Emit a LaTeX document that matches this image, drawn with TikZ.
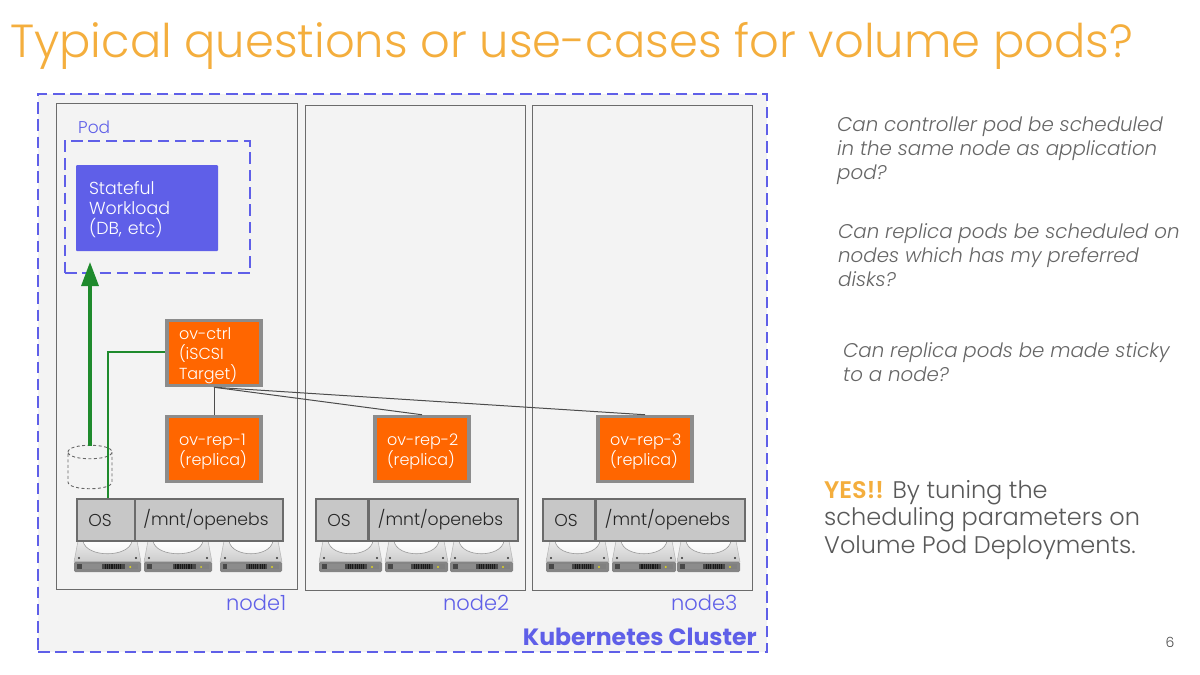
\documentclass[tikz,border=0pt]{standalone}
\usepackage{fontspec}
\setmainfont{Poppins}
\newfontfamily\lightf{Poppins Light}[ItalicFont={Poppins Light Italic},BoldFont={Poppins SemiBold}]
\usetikzlibrary{arrows.meta,shapes.geometric}
\definecolor{clusterbg}{HTML}{F3F3F3}
\definecolor{purp}{HTML}{5F5FE8}
\definecolor{orng}{HTML}{FF6600}
\definecolor{ttl}{HTML}{F4AE3D}
\definecolor{grn}{HTML}{1E8A2C}
\definecolor{bord}{HTML}{6B6B6B}
\definecolor{txtgrey}{HTML}{666666}
\tikzset{
 px/.style={x=1pt,y=-1pt},
 nodebox/.style={draw=bord,line width=1pt,fill=clusterbg,anchor=center,inner sep=0pt},
 clusterbox/.style={draw=purp,line width=2.4pt,dash pattern=on 11.5pt off 5.8pt,fill=clusterbg},
 podbox/.style={draw=purp,line width=2.4pt,dash pattern=on 11.5pt off 5.8pt},
 orangebox/.style={draw=black!45,line width=3.5pt,fill=orng,text=white,font=\lightf\fontsize{16}{20}\selectfont,align=left,inner xsep=12pt,inner ysep=0pt,anchor=center},
 diskbox/.style={draw=bord,line width=1.2pt,fill=black!22,text=black!85,font=\lightf\fontsize{17.2}{20}\selectfont,anchor=center,inner sep=0pt},
 lbl/.style={text=purp,font=\lightf\fontsize{21}{24}\selectfont,inner sep=0pt},
 question/.style={text=txtgrey,font=\lightf\itshape\fontsize{19.8}{24}\selectfont,align=left,anchor=north west,inner sep=0pt},
 conn/.style={draw=black!70,line width=1pt}
}
\newcommand{\hdd}[3]{% x1 x2 ytop
 \begin{scope}[shift={(#1,#3)}]
  \pgfmathsetmacro{\hw}{#2-#1}
  \shade[top color=black!8,bottom color=black!20] (4,0) -- (\hw-4,0) -- (\hw,21) -- (0,21) -- cycle;
  \draw[black!30,line width=.5pt] (4,0) -- (0,21) (\hw-4,0) -- (\hw,21);
  \shade[top color=white,bottom color=black!6] (9,0) .. controls (12,17) and (\hw-12,17) .. (\hw-9,0) -- cycle;
  \draw[black!40,line width=.6pt] (9,0) .. controls (12,17) and (\hw-12,17) .. (\hw-9,0);
  \fill[black!80] (5,17) circle (1.2);
  \fill[black!80] (\hw-5,17) circle (1.2);
  \fill[black!48,rounded corners=1.5pt] (0,20.5) rectangle (\hw,31);
  \fill[black!72] (3,22.5) rectangle (\hw-3,28);
  \fill[black!45] (\hw*.12,22.5) rectangle (\hw*.42,28);
  \foreach \k in {0,...,7}{\fill[black!90] ({\hw*.46+\k*2.2},22.5) rectangle ({\hw*.46+\k*2.2+1.1},28);}
  \fill[black!50] (\hw*.76,22.5) rectangle (\hw-3,28);
  \fill[yellow!85!black] (\hw*.84,26) circle (1.1);
 \end{scope}}
\begin{document}
\begin{tikzpicture}[px]
\useasboundingbox (0,0) rectangle (1200,675);
\fill[white] (0,0) rectangle (1200,675);
\node[text=ttl,font=\lightf\fontsize{46.4}{56}\selectfont,anchor=base west,inner sep=0pt] (title) at (10,57) {Typical questions or use-cases for volume pods?};
\node[clusterbox,minimum width=729pt,minimum height=558pt,inner sep=0pt] (cluster) at (402.5,373) {};
\node[nodebox,minimum width=241pt,minimum height=486pt] (n1) at (176.5,346) {};
\node[nodebox,minimum width=220pt,minimum height=485pt] (n2) at (415,347.5) {};
\node[nodebox,minimum width=220pt,minimum height=485pt] (n3) at (642,347.5) {};
\node[podbox,minimum width=185pt,minimum height=132pt,inner sep=0pt] (pod) at (157.5,207) {};
\node[lbl,font=\lightf\fontsize{17}{20}\selectfont,anchor=west] (podl) at (78,127.5) {Pod};
\node[fill=purp,rounded corners=1pt,text=white,font=\lightf\fontsize{17.4}{20}\selectfont,align=left,text width=116pt,inner xsep=13pt,inner ysep=0pt,minimum height=86pt,anchor=center] (work) at (147,208) {\rule{0pt}{17pt}Stateful\\Workload\\(DB, etc)};
\node[orangebox,text width=70pt,minimum height=65pt] (ctrl) at (214,353) {\rule{0pt}{18pt}ov-ctrl\\(iSCSI\\Target)};
\node[orangebox,text width=70pt,minimum height=65pt] (r1) at (214,449) {\rule{0pt}{18pt}\mbox{ov-rep-1}\\(replica)};
\node[orangebox,text width=70pt,minimum height=65pt] (r2) at (422,449) {\rule{0pt}{18pt}\mbox{ov-rep-2}\\(replica)};
\node[orangebox,text width=70pt,minimum height=65pt] (r3) at (645,449) {\rule{0pt}{18pt}\mbox{ov-rep-3}\\(replica)};
\hdd{74}{141}{541}\hdd{144}{212}{541}\hdd{220}{282}{541}
\hdd{319}{382}{541}\hdd{385}{448}{541}\hdd{450}{513}{541}
\hdd{546}{609}{541}\hdd{612}{676}{541}\hdd{677}{740}{541}
\node[diskbox,minimum width=58pt,minimum height=42pt] (os1) at (106,520) {OS\kern12pt};
\node[diskbox,minimum width=148pt,minimum height=42pt] (m1) at (209,520) {/mnt/openebs\kern6pt};
\node[diskbox,minimum width=52pt,minimum height=42pt] (os2) at (342,520) {OS\kern6pt};
\node[diskbox,minimum width=149pt,minimum height=42pt] (m2) at (443.5,520) {/mnt/openebs\kern6pt};
\node[diskbox,minimum width=52pt,minimum height=42pt] (os3) at (569,520) {OS\kern6pt};
\node[diskbox,minimum width=149pt,minimum height=42pt] (m3) at (670.5,520) {/mnt/openebs\kern6pt};
\node[lbl,anchor=west] (l1) at (226,603) {node1};
\node[lbl,anchor=west] (l2) at (443,603) {node2};
\node[lbl,anchor=west] (l3) at (671,603) {node3};
\node[text=purp,font=\fontsize{23.6}{26}\selectfont\bfseries,anchor=east,inner sep=0pt] (kc) at (757,637) {Kubernetes Cluster};
% cylinder
\coordinate (cyltop) at (90,446);
\coordinate (cylL) at (68,452);
\coordinate (cylR) at (112,452);
\draw[black!60,line width=.9pt,dash pattern=on 3pt off 2.5pt] (cylL) .. controls (68,443) and (112,443) .. (cylR) .. controls (112,461) and (68,461) .. (cylL) -- (68,482) .. controls (68,491) and (112,491) .. (112,482) -- (cylR);
% connectors
\coordinate (armtop) at (90,262);
\draw[grn,line width=3.2pt,-{Triangle[length=24pt,width=17pt]}] (cyltop) -- (armtop);
\coordinate (bend) at (108,352);
\draw[grn,line width=2.4pt] (os1.north -| bend) -- (bend) -- (ctrl.west |- bend);
\draw[conn] (ctrl.south) -- (r1.north);
\draw[conn] (ctrl.south) -- (r2.north);
\draw[conn] (ctrl.south) -- (r3.north);
% right text
\node[question] (q1) at (837,117) {Can controller pod be scheduled\\in the same node as application\\pod?};
\node[question] (q2) at (838,223) {Can replica pods be scheduled on\\nodes which has my preferred\\disks?};
\node[question] (q3) at (843,342) {Can replica pods be made sticky\\to a node?};
\node[text=black!65,font=\lightf\fontsize{24}{27.5}\selectfont,align=left,anchor=north west,inner sep=0pt] (yes) at (824,480) {\textcolor{ttl}{\bfseries YES!!} By tuning the\\scheduling parameters on\\Volume Pod Deployments.};
\node[text=black!70,font=\lightf\fontsize{14}{16}\selectfont,anchor=center,inner sep=0pt] (pg) at (1170,642) {6};
\end{tikzpicture}
\end{document}
